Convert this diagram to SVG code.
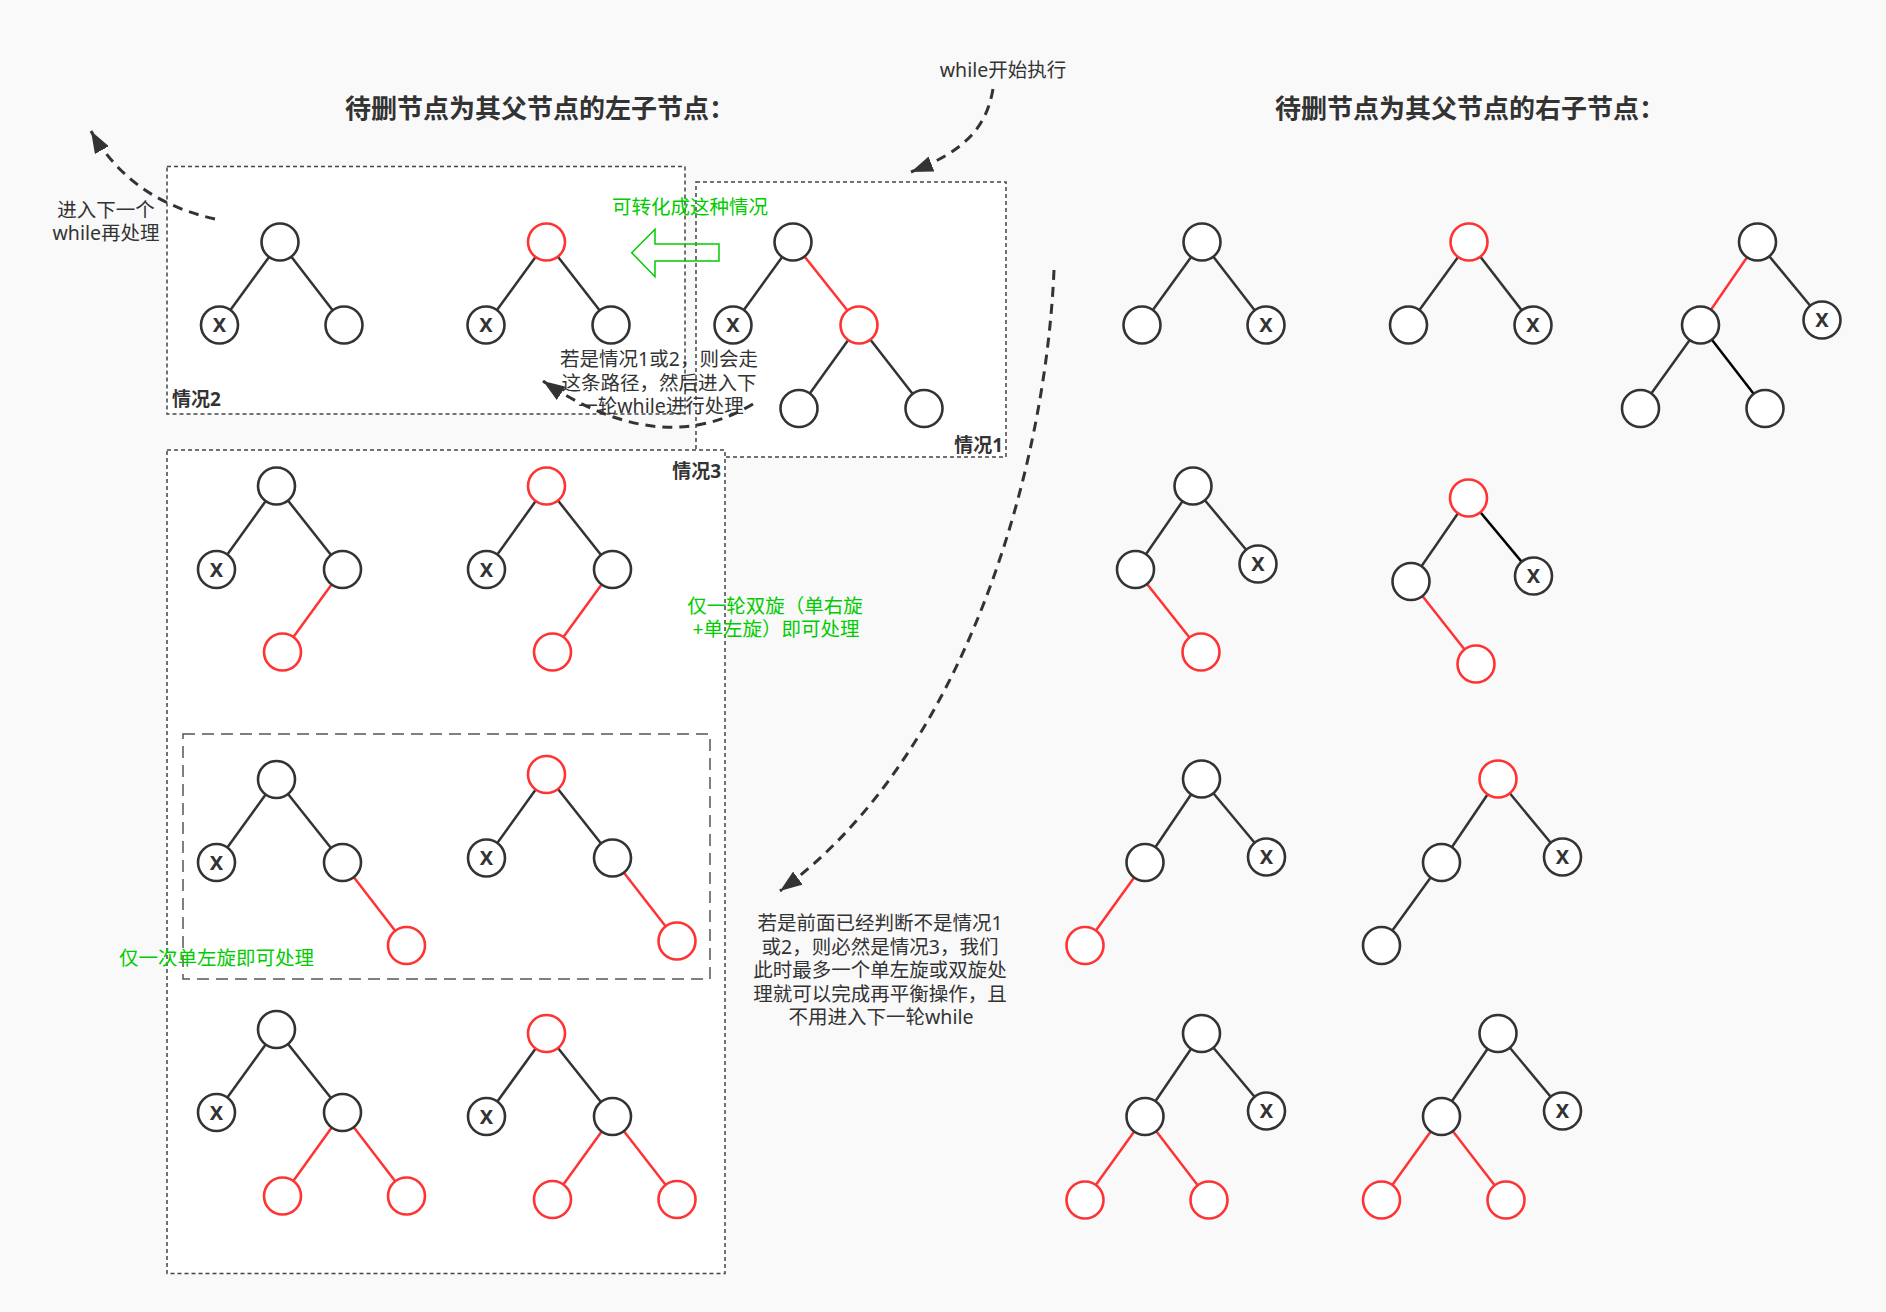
<svg xmlns="http://www.w3.org/2000/svg" width="1886" height="1312" viewBox="0 0 1886 1312">
<defs>
<style>
.bg{fill:#f9f9f9}
.box{fill:#ffffff;stroke:#444;stroke-width:1.5;stroke-dasharray:4 3}
.box2{fill:none;stroke:#555;stroke-width:1.5;stroke-dasharray:12 7}
.n{fill:#ffffff;stroke:#333;stroke-width:2.6}
.r{fill:#ffffff;stroke:#ff3333;stroke-width:2.6}
.e{stroke:#333;stroke-width:2.5;fill:none}
.er{stroke:#ff3333;stroke-width:2.5;fill:none}
.ek{stroke:#000;stroke-width:2.5;fill:none}
.x{font-family:"Noto Sans","Liberation Sans",sans-serif;font-size:20px;font-weight:bold;fill:#333;text-anchor:middle}
.t{font-family:"Noto Sans","Noto Sans CJK SC",sans-serif;font-size:19.5px;fill:#333}
.g{font-family:"Noto Sans","Noto Sans CJK SC",sans-serif;font-size:19.5px;fill:#00cc00}
.h{font-family:"Noto Sans","Noto Sans CJK SC",sans-serif;font-size:26px;font-weight:bold;fill:#333}
.lb{font-family:"Noto Sans","Noto Sans CJK SC",sans-serif;font-size:19px;font-weight:bold;fill:#333}
.c{text-anchor:middle}
.da{stroke:#333;stroke-width:3;fill:none;stroke-dasharray:10 7}
</style>
<marker id="ah" viewBox="0 0 10 10" refX="10" refY="5" markerWidth="22" markerHeight="16" markerUnits="userSpaceOnUse" orient="auto" preserveAspectRatio="none">
<path d="M0,0 L10,5 L0,10 z" fill="#333"/>
</marker>
</defs>
<rect class="bg" x="0" y="0" width="1886" height="1312"/>

<g id="frames">
<rect id="case2-box" class="box" x="167" y="166.5" width="518" height="247.5"/>
<rect id="case1-box" class="box" x="696" y="182" width="310" height="275"/>
<rect id="case3-box" class="box" x="167" y="450" width="558" height="823.5"/>
<rect id="case3-inner" class="box2" x="183" y="734" width="527" height="245"/>
</g>

<g id="titles">
<text class="h" x="345" y="118">待删节点为其父节点的左子节点：</text>
<text class="h" x="1275" y="118">待删节点为其父节点的右子节点：</text>
<text class="lb" x="172" y="406">情况2</text>
<text class="lb" x="1003" y="452" text-anchor="end">情况1</text>
<text class="lb" x="721" y="478" text-anchor="end">情况3</text>
</g>

<g id="connectors">
<!-- case 2 -->
<line class="e" x1="280" y1="242" x2="219.5" y2="325"/>
<line class="e" x1="280" y1="242" x2="344" y2="325"/>
<line class="e" x1="546.5" y1="242" x2="486" y2="325"/>
<line class="e" x1="546.5" y1="242" x2="611" y2="325"/>
<!-- case 1 -->
<line class="e" x1="793" y1="242" x2="733" y2="325"/>
<line class="er" x1="793" y1="242" x2="859" y2="325"/>
<line class="e" x1="859" y1="325" x2="799" y2="408.5"/>
<line class="e" x1="859" y1="325" x2="924" y2="408.5"/>
<!-- right top -->
<line class="e" x1="1202" y1="242" x2="1142" y2="325"/>
<line class="e" x1="1202" y1="242" x2="1266" y2="325"/>
<line class="e" x1="1469" y1="242" x2="1408.5" y2="325"/>
<line class="e" x1="1469" y1="242" x2="1533" y2="325"/>
<line class="er" x1="1757.5" y1="242" x2="1700.5" y2="325"/>
<line class="e" x1="1757.5" y1="242" x2="1822" y2="320"/>
<line class="e" x1="1700.5" y1="325" x2="1640.5" y2="408.5"/>
<line class="ek" x1="1700.5" y1="325" x2="1765" y2="408.5"/>
<!-- case 3 row 1 -->
<line class="e" x1="276.5" y1="486" x2="216.5" y2="569.5"/>
<line class="e" x1="276.5" y1="486" x2="342.5" y2="569.5"/>
<line class="er" x1="342.5" y1="569.5" x2="282.5" y2="652"/>
<line class="e" x1="546.5" y1="486" x2="486.5" y2="569.5"/>
<line class="e" x1="546.5" y1="486" x2="612.5" y2="569.5"/>
<line class="er" x1="612.5" y1="569.5" x2="552.5" y2="652"/>
<!-- case 3 row 2 -->
<line class="e" x1="276.5" y1="779.5" x2="216.5" y2="862.5"/>
<line class="e" x1="276.5" y1="779.5" x2="342.5" y2="862.5"/>
<line class="er" x1="342.5" y1="862.5" x2="406.5" y2="945.5"/>
<line class="e" x1="546.5" y1="774.5" x2="486.5" y2="858"/>
<line class="e" x1="546.5" y1="774.5" x2="612.5" y2="858"/>
<line class="er" x1="612.5" y1="858" x2="677" y2="941"/>
<!-- case 3 row 3 -->
<line class="e" x1="276.5" y1="1029.5" x2="216.5" y2="1112.5"/>
<line class="e" x1="276.5" y1="1029.5" x2="342.5" y2="1112.5"/>
<line class="er" x1="342.5" y1="1112.5" x2="282.5" y2="1196"/>
<line class="er" x1="342.5" y1="1112.5" x2="406.5" y2="1196"/>
<line class="e" x1="546.5" y1="1033.5" x2="486.5" y2="1116.5"/>
<line class="e" x1="546.5" y1="1033.5" x2="612.5" y2="1116.5"/>
<line class="er" x1="612.5" y1="1116.5" x2="552.5" y2="1199.5"/>
<line class="er" x1="612.5" y1="1116.5" x2="677" y2="1199.5"/>
<!-- right row 1 -->
<line class="e" x1="1193" y1="486" x2="1135.5" y2="569.5"/>
<line class="e" x1="1193" y1="486" x2="1258" y2="564"/>
<line class="er" x1="1135.5" y1="569.5" x2="1201" y2="652"/>
<line class="e" x1="1468.5" y1="498" x2="1411" y2="581.5"/>
<line class="ek" x1="1468.5" y1="498" x2="1533.5" y2="576"/>
<line class="er" x1="1411" y1="581.5" x2="1476" y2="664"/>
<!-- right row 2 -->
<line class="e" x1="1201.5" y1="779" x2="1145" y2="862.5"/>
<line class="e" x1="1201.5" y1="779" x2="1266.5" y2="857"/>
<line class="er" x1="1145" y1="862.5" x2="1085" y2="945.5"/>
<line class="e" x1="1498" y1="779" x2="1441.5" y2="862.5"/>
<line class="e" x1="1498" y1="779" x2="1562.5" y2="857"/>
<line class="e" x1="1441.5" y1="862.5" x2="1381.5" y2="945.5"/>
<!-- right row 3 -->
<line class="e" x1="1201.5" y1="1033.5" x2="1145" y2="1116.5"/>
<line class="e" x1="1201.5" y1="1033.5" x2="1266.5" y2="1111"/>
<line class="er" x1="1145" y1="1116.5" x2="1085" y2="1200"/>
<line class="er" x1="1145" y1="1116.5" x2="1209" y2="1200"/>
<line class="e" x1="1498" y1="1033.5" x2="1441.5" y2="1116.5"/>
<line class="e" x1="1498" y1="1033.5" x2="1562.5" y2="1111"/>
<line class="er" x1="1441.5" y1="1116.5" x2="1381.5" y2="1200"/>
<line class="er" x1="1441.5" y1="1116.5" x2="1506" y2="1200"/>
<!-- dashed flow arrows -->
<path class="da" d="M 993 89 C 986 130, 962 152, 911 172" marker-end="url(#ah)"/>
<path class="da" d="M 215 219 C 165 208, 120 182, 91 131" marker-end="url(#ah)"/>
<path class="da" d="M 753 404 Q 660 460 543 381" marker-end="url(#ah)"/>
<path class="da" d="M 1054 270 C 1045 480, 960 760, 780 891" marker-end="url(#ah)"/>
<polygon id="convert-arrow" points="631.7,252.7 655,229.3 655,244 719,244 719,261 655,261 655,276.7" fill="none" stroke="#00cc00" stroke-width="1.5"/>
</g>

<g id="nodes">
<g id="c2a"><circle class="n" cx="280" cy="242" r="18.5"/><circle class="n" cx="219.5" cy="325" r="18.5"/><text class="x" x="219.5" y="332">X</text><circle class="n" cx="344" cy="325" r="18.5"/></g>
<g id="c2b"><circle class="r" cx="546.5" cy="242" r="18.5"/><circle class="n" cx="486" cy="325" r="18.5"/><text class="x" x="486" y="332">X</text><circle class="n" cx="611" cy="325" r="18.5"/></g>
<g id="c1"><circle class="n" cx="793" cy="242" r="18.5"/><circle class="n" cx="733" cy="325" r="18.5"/><text class="x" x="733" y="332">X</text><circle class="r" cx="859" cy="325" r="18.5"/><circle class="n" cx="799" cy="408.5" r="18.5"/><circle class="n" cx="924" cy="408.5" r="18.5"/></g>
<g id="rt1"><circle class="n" cx="1202" cy="242" r="18.5"/><circle class="n" cx="1142" cy="325" r="18.5"/><circle class="n" cx="1266" cy="325" r="18.5"/><text class="x" x="1266" y="332">X</text></g>
<g id="rt2"><circle class="r" cx="1469" cy="242" r="18.5"/><circle class="n" cx="1408.5" cy="325" r="18.5"/><circle class="n" cx="1533" cy="325" r="18.5"/><text class="x" x="1533" y="332">X</text></g>
<g id="rt3"><circle class="n" cx="1757.5" cy="242" r="18.5"/><circle class="n" cx="1700.5" cy="325" r="18.5"/><circle class="n" cx="1822" cy="320" r="18.5"/><text class="x" x="1822" y="327">X</text><circle class="n" cx="1640.5" cy="408.5" r="18.5"/><circle class="n" cx="1765" cy="408.5" r="18.5"/></g>
<g id="c3r1a"><circle class="n" cx="276.5" cy="486" r="18.5"/><circle class="n" cx="216.5" cy="569.5" r="18.5"/><text class="x" x="216.5" y="576.5">X</text><circle class="n" cx="342.5" cy="569.5" r="18.5"/><circle class="r" cx="282.5" cy="652" r="18.5"/></g>
<g id="c3r1b"><circle class="r" cx="546.5" cy="486" r="18.5"/><circle class="n" cx="486.5" cy="569.5" r="18.5"/><text class="x" x="486.5" y="576.5">X</text><circle class="n" cx="612.5" cy="569.5" r="18.5"/><circle class="r" cx="552.5" cy="652" r="18.5"/></g>
<g id="c3r2a"><circle class="n" cx="276.5" cy="779.5" r="18.5"/><circle class="n" cx="216.5" cy="862.5" r="18.5"/><text class="x" x="216.5" y="869.5">X</text><circle class="n" cx="342.5" cy="862.5" r="18.5"/><circle class="r" cx="406.5" cy="945.5" r="18.5"/></g>
<g id="c3r2b"><circle class="r" cx="546.5" cy="774.5" r="18.5"/><circle class="n" cx="486.5" cy="858" r="18.5"/><text class="x" x="486.5" y="865">X</text><circle class="n" cx="612.5" cy="858" r="18.5"/><circle class="r" cx="677" cy="941" r="18.5"/></g>
<g id="c3r3a"><circle class="n" cx="276.5" cy="1029.5" r="18.5"/><circle class="n" cx="216.5" cy="1112.5" r="18.5"/><text class="x" x="216.5" y="1119.5">X</text><circle class="n" cx="342.5" cy="1112.5" r="18.5"/><circle class="r" cx="282.5" cy="1196" r="18.5"/><circle class="r" cx="406.5" cy="1196" r="18.5"/></g>
<g id="c3r3b"><circle class="r" cx="546.5" cy="1033.5" r="18.5"/><circle class="n" cx="486.5" cy="1116.5" r="18.5"/><text class="x" x="486.5" y="1123.5">X</text><circle class="n" cx="612.5" cy="1116.5" r="18.5"/><circle class="r" cx="552.5" cy="1199.5" r="18.5"/><circle class="r" cx="677" cy="1199.5" r="18.5"/></g>
<g id="rr1a"><circle class="n" cx="1193" cy="486" r="18.5"/><circle class="n" cx="1135.5" cy="569.5" r="18.5"/><circle class="n" cx="1258" cy="564" r="18.5"/><text class="x" x="1258" y="571">X</text><circle class="r" cx="1201" cy="652" r="18.5"/></g>
<g id="rr1b"><circle class="r" cx="1468.5" cy="498" r="18.5"/><circle class="n" cx="1411" cy="581.5" r="18.5"/><circle class="n" cx="1533.5" cy="576" r="18.5"/><text class="x" x="1533.5" y="583">X</text><circle class="r" cx="1476" cy="664" r="18.5"/></g>
<g id="rr2a"><circle class="n" cx="1201.5" cy="779" r="18.5"/><circle class="n" cx="1145" cy="862.5" r="18.5"/><circle class="n" cx="1266.5" cy="857" r="18.5"/><text class="x" x="1266.5" y="864">X</text><circle class="r" cx="1085" cy="945.5" r="18.5"/></g>
<g id="rr2b"><circle class="r" cx="1498" cy="779" r="18.5"/><circle class="n" cx="1441.5" cy="862.5" r="18.5"/><circle class="n" cx="1562.5" cy="857" r="18.5"/><text class="x" x="1562.5" y="864">X</text><circle class="n" cx="1381.5" cy="945.5" r="18.5"/></g>
<g id="rr3a"><circle class="n" cx="1201.5" cy="1033.5" r="18.5"/><circle class="n" cx="1145" cy="1116.5" r="18.5"/><circle class="n" cx="1266.5" cy="1111" r="18.5"/><text class="x" x="1266.5" y="1118">X</text><circle class="r" cx="1085" cy="1200" r="18.5"/><circle class="r" cx="1209" cy="1200" r="18.5"/></g>
<g id="rr3b"><circle class="n" cx="1498" cy="1033.5" r="18.5"/><circle class="n" cx="1441.5" cy="1116.5" r="18.5"/><circle class="n" cx="1562.5" cy="1111" r="18.5"/><text class="x" x="1562.5" y="1118">X</text><circle class="r" cx="1381.5" cy="1200" r="18.5"/><circle class="r" cx="1506" cy="1200" r="18.5"/></g>
</g>

<g id="notes">
<text class="t c" x="1003" y="77">while开始执行</text>
<text class="t c" x="106" y="216.5"><tspan x="106" y="216.5">进入下一个</tspan><tspan x="106" y="240">while再处理</tspan></text>
<text class="g c" x="690" y="214">可转化成这种情况</text>
<text class="t c" x="659" y="366"><tspan x="659" y="366">若是情况1或2，则会走</tspan><tspan x="659" y="389.5">这条路径，然后进入下</tspan><tspan x="661" y="413">一轮while进行处理</tspan></text>
<text class="g c" x="775" y="612.5"><tspan x="775" y="612.5">仅一轮双旋（单右旋</tspan><tspan x="776" y="636">+单左旋）即可处理</tspan></text>
<text class="g" x="119" y="965">仅一次单左旋即可处理</text>
<text class="t c" x="880" y="930"><tspan x="880" y="930">若是前面已经判断不是情况1</tspan><tspan x="880" y="953.5">或2，则必然是情况3，我们</tspan><tspan x="880" y="977">此时最多一个单左旋或双旋处</tspan><tspan x="880" y="1000.5">理就可以完成再平衡操作，且</tspan><tspan x="881" y="1024">不用进入下一轮while</tspan></text>
</g>
</svg>
